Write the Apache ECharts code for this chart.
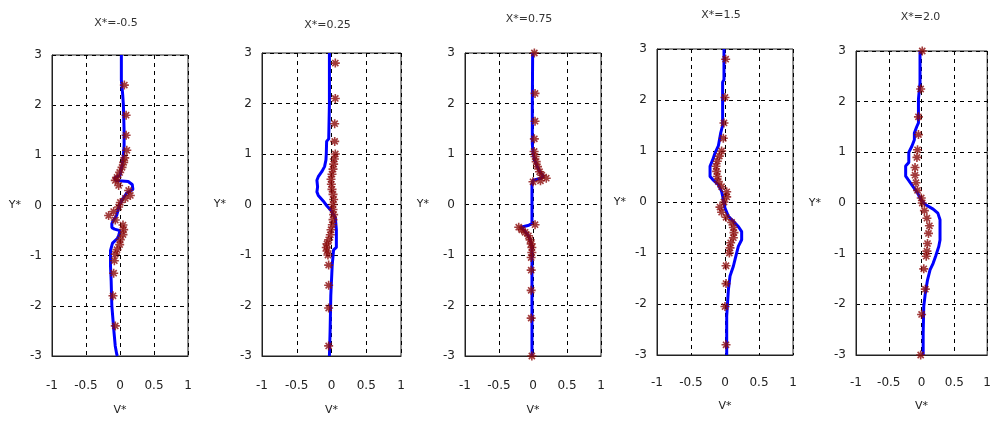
<!DOCTYPE html>
<html>
<head>
<meta charset="utf-8">
<script src="https://cdn.jsdelivr.net/npm/echarts@6/dist/echarts.min.js"></script>
<style>
html,body{margin:0;padding:0;background:#fff;}
#chart{width:994px;height:421px;}
</style>
</head>
<body>
<div id="chart"></div>
<script>
// ---- data ----
const panelTitles = ['X*=-0.5', 'X*=0.25', 'X*=0.75', 'X*=1.5', 'X*=2.0'];
const xTicks = [-1, -0.5, 0, 0.5, 1];
const yTicks = [-3, -2, -1, 0, 1, 2, 3];

// simulation profiles [V*, Y*]
const line1 = [[0.02,3],[0.02,2.5],[0.04,2.2],[0.05,2.0],[0.06,1.5],[0.06,1.2],[0.05,1.0],[0.03,0.8],[0.0,0.6],[-0.08,0.55],[-0.06,0.5],[0.12,0.48],[0.18,0.42],[0.19,0.32],[0.1,0.25],[0.05,0.15],[-0.01,0.0],[-0.05,-0.2],[-0.1,-0.3],[-0.12,-0.36],[-0.12,-0.44],[-0.08,-0.47],[0.0,-0.5],[-0.02,-0.6],[-0.04,-0.66],[-0.11,-0.75],[-0.14,-0.9],[-0.14,-1.2],[-0.13,-1.5],[-0.12,-2.0],[-0.09,-2.5],[-0.07,-2.8],[-0.05,-2.95],[-0.04,-3]];
const line2 = [[-0.03,3],[-0.03,2],[-0.04,1.3],[-0.07,1.25],[-0.075,1.0],[-0.08,0.88],[-0.1,0.75],[-0.14,0.65],[-0.19,0.55],[-0.21,0.48],[-0.2,0.35],[-0.21,0.25],[-0.19,0.18],[-0.12,0.07],[-0.065,-0.03],[0.0,-0.13],[0.055,-0.26],[0.07,-0.5],[0.07,-0.85],[0.03,-0.9],[0.01,-1.2],[-0.01,-1.8],[-0.02,-2.5],[-0.03,-3]];
const line3 = [[-0.005,3],[-0.01,2],[-0.01,1.2],[0.0,1.03],[0.02,0.9],[0.055,0.77],[0.1,0.65],[0.155,0.56],[0.12,0.52],[0.0,0.48],[-0.015,0.4],[-0.015,0.0],[-0.015,-0.38],[-0.06,-0.41],[-0.18,-0.45],[-0.14,-0.5],[-0.08,-0.6],[-0.04,-0.7],[-0.02,-0.8],[-0.015,-1.0],[-0.015,-2],[-0.015,-3]];
const line4 = [[-0.015,3],[-0.015,2.4],[-0.035,2.35],[-0.035,1.5],[-0.064,1.35],[-0.098,1.1],[-0.147,0.96],[-0.18,0.83],[-0.22,0.7],[-0.22,0.5],[-0.18,0.44],[-0.098,0.34],[-0.05,0.21],[-0.025,0.05],[0.0,-0.12],[0.05,-0.28],[0.123,-0.38],[0.196,-0.48],[0.245,-0.58],[0.245,-0.74],[0.196,-0.87],[0.147,-1.13],[0.123,-1.26],[0.074,-1.45],[0.05,-1.72],[0.025,-2.24],[0.025,-3]];
const line5 = [[-0.024,3],[-0.024,2.37],[-0.048,2.05],[-0.048,1.58],[-0.076,1.5],[-0.11,1.38],[-0.11,1.25],[-0.148,1.12],[-0.195,1.0],[-0.195,0.8],[-0.243,0.73],[-0.243,0.53],[-0.205,0.46],[-0.133,0.33],[-0.062,0.2],[-0.014,0.07],[0.057,-0.03],[0.176,-0.12],[0.248,-0.2],[0.281,-0.33],[0.281,-0.73],[0.262,-0.86],[0.214,-1.05],[0.176,-1.19],[0.129,-1.32],[0.09,-1.52],[0.057,-1.78],[0.033,-2.04],[0.024,-2.57],[0.024,-3]];

// measured points [V*, Y*]
const mark1 = [[0.064,2.4],[0.09,1.8],[0.09,1.4],[0.1,1.1],[0.07,0.95],[0.054,0.86],[0.03,0.76],[-0.005,0.66],[-0.044,0.56],[-0.069,0.5],[-0.02,0.4],[0.127,0.3],[0.152,0.2],[0.078,0.14],[0.005,0.06],[-0.02,-0.03],[-0.093,-0.12],[-0.167,-0.2],[-0.069,-0.29],[0.044,-0.39],[0.054,-0.48],[0.044,-0.58],[0.005,-0.68],[-0.005,-0.78],[-0.044,-0.88],[-0.069,-0.97],[-0.083,-1.1],[-0.093,-1.35],[-0.103,-1.8],[-0.069,-2.4]];
const mark2 = [[0.055,2.8],[0.055,2.1],[0.046,1.6],[0.046,1.25],[0.055,1.0],[0.041,0.9],[0.031,0.8],[0.022,0.7],[0.007,0.6],[-0.007,0.5],[-0.002,0.4],[0.007,0.3],[0.022,0.2],[0.031,0.1],[0.022,0.0],[0.022,-0.1],[0.031,-0.2],[0.022,-0.3],[0.012,-0.4],[-0.007,-0.5],[-0.017,-0.6],[-0.041,-0.7],[-0.065,-0.78],[-0.075,-0.85],[-0.065,-0.92],[-0.051,-1.0],[-0.041,-1.2],[-0.041,-1.6],[-0.041,-2.05],[-0.041,-2.8]];
const mark3 = [[0.02,3],[0.03,2.2],[0.03,1.65],[0.02,1.3],[0.017,1.05],[0.03,0.95],[0.047,0.85],[0.066,0.75],[0.096,0.65],[0.13,0.58],[0.195,0.52],[0.11,0.47],[0.0,0.45],[0.03,-0.4],[-0.21,-0.45],[-0.165,-0.5],[-0.116,-0.55],[-0.067,-0.62],[-0.042,-0.7],[-0.027,-0.78],[-0.017,-0.85],[-0.017,-0.95],[-0.027,-1.05],[-0.027,-1.3],[-0.027,-1.7],[-0.027,-2.25],[-0.017,-3]];
const mark4 = [[0.01,2.8],[0.0,2.05],[-0.015,1.55],[-0.025,1.25],[-0.05,1.0],[-0.083,0.9],[-0.113,0.8],[-0.132,0.7],[-0.123,0.6],[-0.113,0.5],[-0.098,0.4],[-0.05,0.3],[0.025,0.2],[0.025,0.1],[-0.015,0.0],[-0.074,-0.1],[-0.05,-0.2],[0.015,-0.3],[0.098,-0.4],[0.123,-0.5],[0.132,-0.6],[0.123,-0.7],[0.083,-0.8],[0.074,-0.9],[0.064,-1.0],[0.015,-1.25],[0.015,-1.6],[0.0,-2.05],[0.015,-2.8]];
const mark5 = [[0.01,3],[-0.014,2.25],[-0.048,1.7],[-0.048,1.35],[-0.062,1.05],[-0.071,0.9],[-0.1,0.7],[-0.1,0.55],[-0.086,0.4],[-0.062,0.25],[-0.005,0.1],[0.01,0.0],[0.043,-0.15],[0.081,-0.3],[0.119,-0.45],[0.105,-0.6],[0.09,-0.8],[0.081,-0.95],[0.071,-1.05],[0.033,-1.3],[0.057,-1.7],[0.0,-2.2],[-0.014,-3]];

const lines = [line1, line2, line3, line4, line5];
const marks = [mark1, mark2, mark3, mark4, mark5];

// ---- layout ----
const boxes = [
  {left: 52,  top: 55, width: 136, height: 305, yGap: 31, xGap: 49, titleY: 23, labelMargin: 24},
  {left: 262, top: 53, width: 139, height: 307, yGap: 36, xGap: 49, titleY: 25, labelMargin: 24},
  {left: 465, top: 53, width: 136, height: 305, yGap: 36, xGap: 49, titleY: 19, labelMargin: 24},
  {left: 657, top: 49, width: 136, height: 306, yGap: 31, xGap: 46, titleY: 15, labelMargin: 22},
  {left: 856, top: 51, width: 137, height: 304, yGap: 35, xGap: 46, titleY: 17, labelMargin: 22}
];

const FONT = 'DejaVu Sans';
const TXT = '#222';
const star = 'path://M5 0L5 10M0 5L10 5M1.6 1.6L8.4 8.4M1.6 8.4L8.4 1.6';

const grid = [], xAxis = [], yAxis = [], series = [], graphic = [];
boxes.forEach((b, i) => {
  grid.push({left: b.left, top: b.top, width: b.width, height: b.height,
    show: true, borderColor: '#222', borderWidth: 1, backgroundColor: '#fff', containLabel: false});
  xAxis.push({
    type: 'value', gridIndex: i, min: xTicks[0], max: xTicks[xTicks.length - 1], interval: 0.5,
    name: 'V*', nameLocation: 'middle', nameGap: b.xGap,
    nameTextStyle: {fontFamily: FONT, fontSize: 11, color: TXT},
    axisLine: {show: true, onZero: false, lineStyle: {color: '#222', width: 1}},
    axisTick: {show: false},
    axisLabel: {fontFamily: FONT, fontSize: 12, color: TXT, margin: b.labelMargin},
    splitLine: {show: true, lineStyle: {color: '#000', width: 1, type: [4, 4]}}
  });
  yAxis.push({
    type: 'value', gridIndex: i, min: yTicks[0], max: yTicks[yTicks.length - 1], interval: 1,
    name: 'Y*', nameLocation: 'middle', nameRotate: 0, nameGap: b.yGap,
    nameTextStyle: {fontFamily: FONT, fontSize: 11, color: TXT},
    axisLine: {show: true, onZero: false, lineStyle: {color: '#222', width: 1}},
    axisTick: {show: false},
    axisLabel: {fontFamily: FONT, fontSize: 12, color: TXT, margin: 10},
    splitLine: {show: true, lineStyle: {color: '#000', width: 1, type: [4, 4]}}
  });
  series.push({
    type: 'line', xAxisIndex: i, yAxisIndex: i, data: lines[i], showSymbol: false,
    lineStyle: {color: '#0000ff', width: 3}, z: 3, silent: true
  });
  series.push({
    type: 'scatter', xAxisIndex: i, yAxisIndex: i, data: marks[i], symbol: star, symbolSize: 9,
    itemStyle: {color: 'rgba(0,0,0,0)', borderColor: '#8b0a0a', borderWidth: 1.6}, z: 4, silent: true
  });
  graphic.push({
    type: 'text', x: b.left + b.width / 2 - 4, y: b.titleY,
    style: {text: panelTitles[i], fontFamily: FONT, fontSize: 11, fill: '#333',
      textAlign: 'center', textVerticalAlign: 'middle'}
  });
});

const chart = echarts.init(document.getElementById('chart'), null, {renderer: 'canvas'});
chart.setOption({
  animation: false,
  backgroundColor: '#fff',
  grid, xAxis, yAxis, series, graphic
});
</script>
</body>
</html>
